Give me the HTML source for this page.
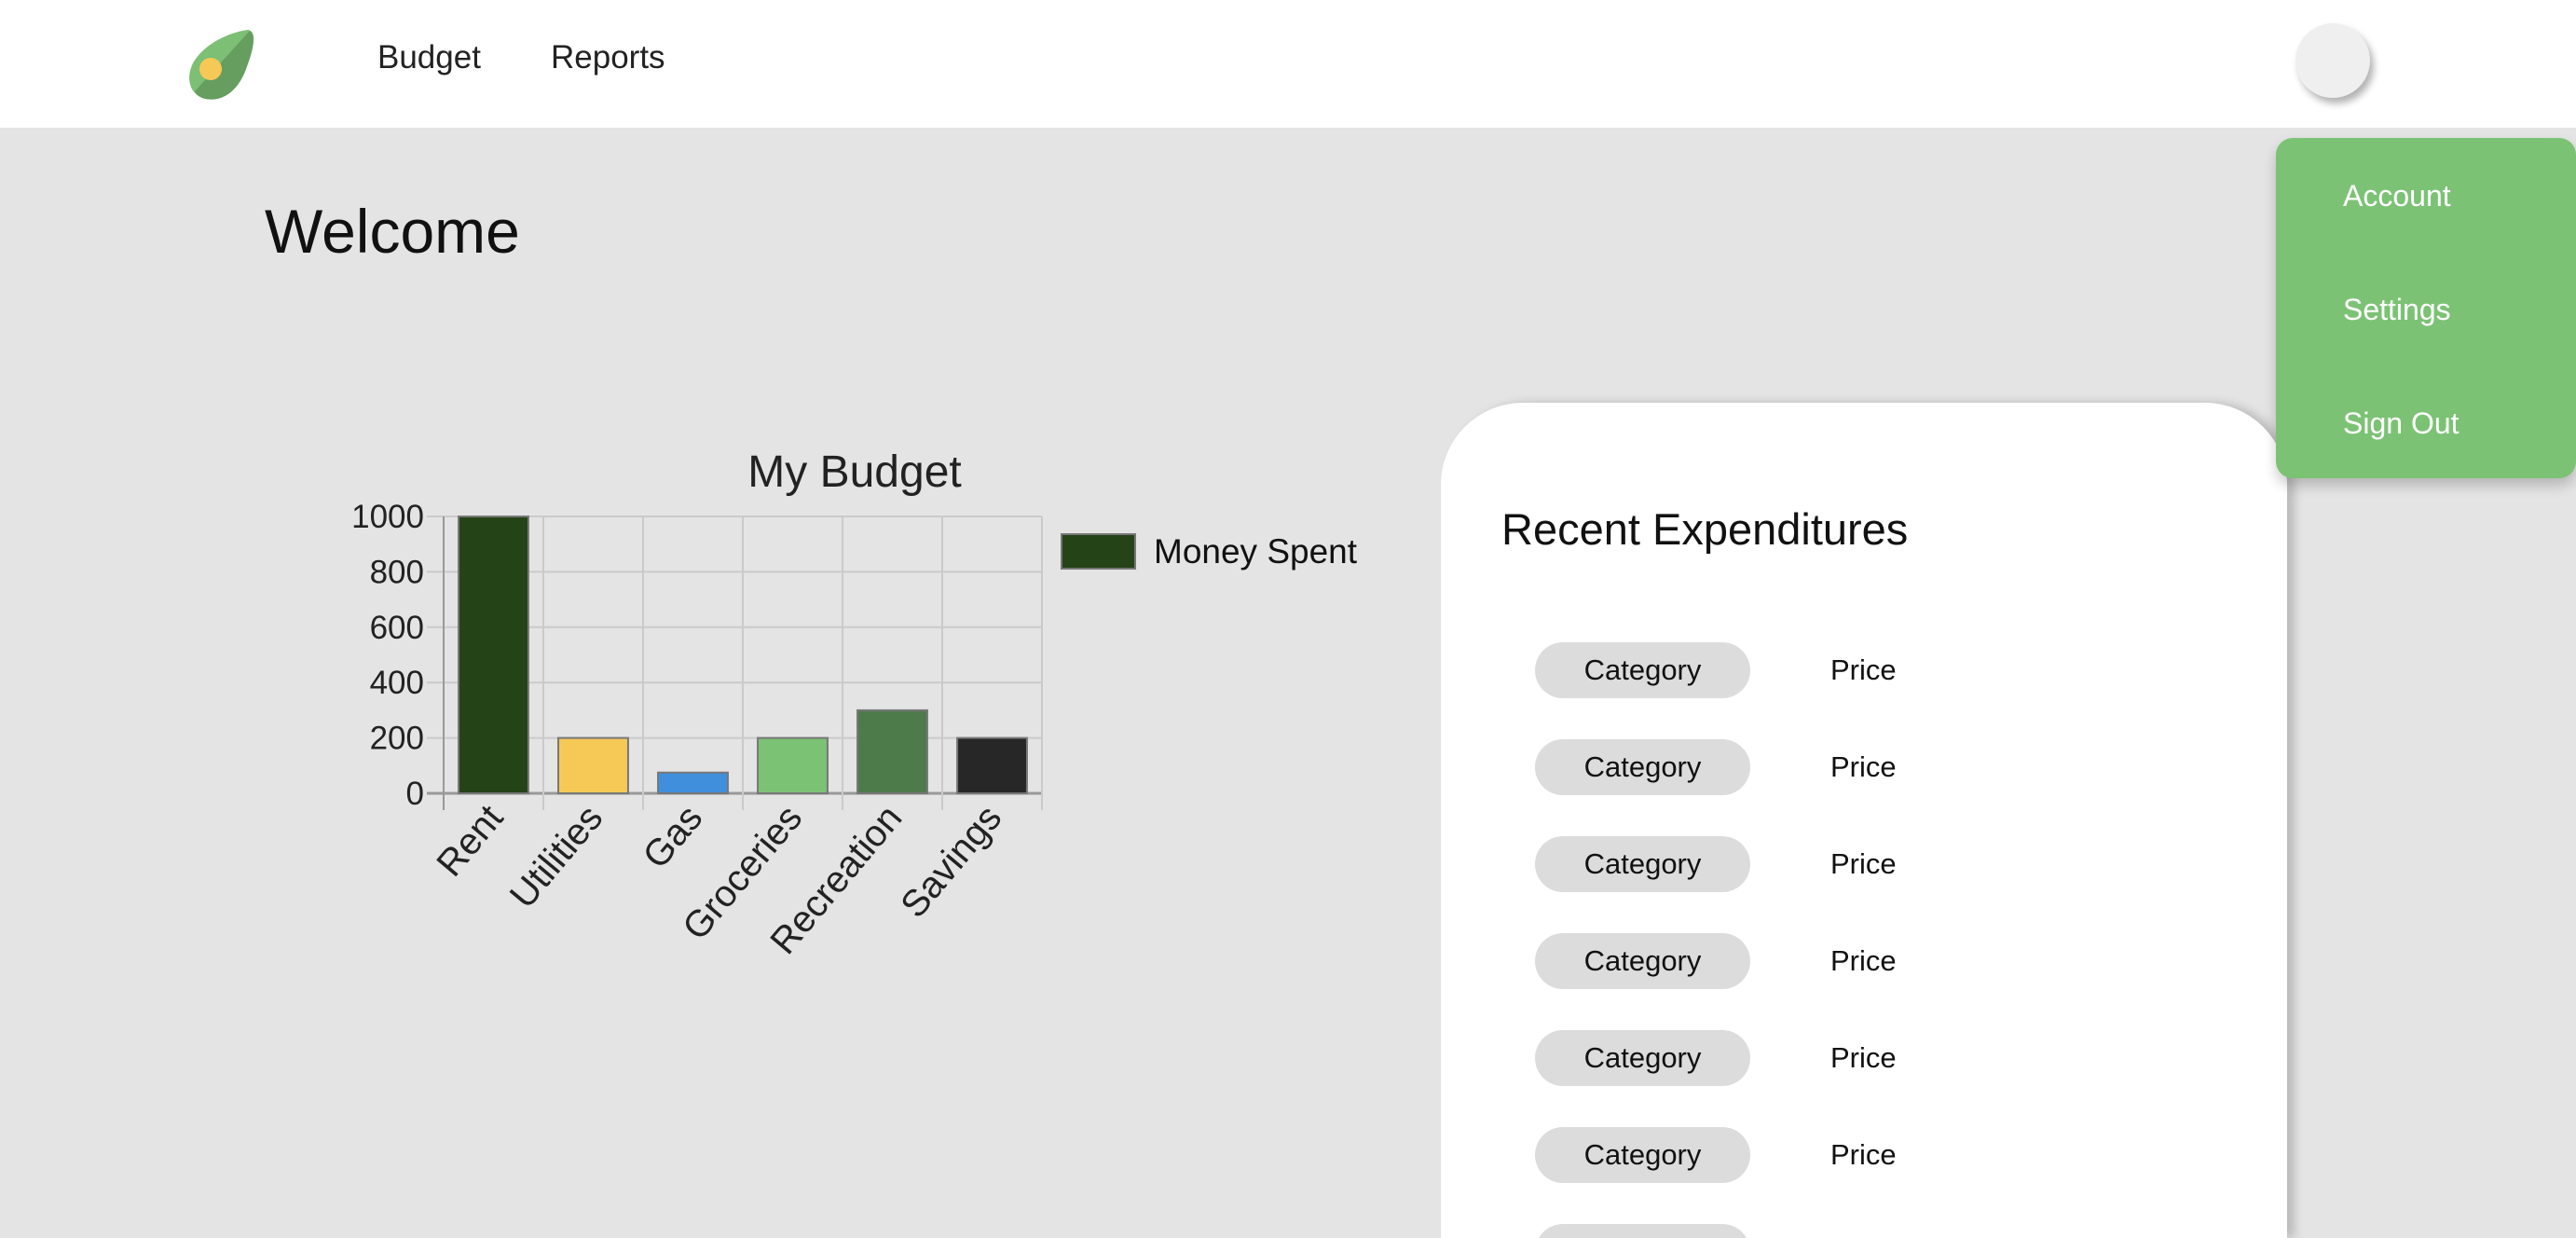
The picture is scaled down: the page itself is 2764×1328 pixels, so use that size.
<!DOCTYPE html>
<html><head><meta charset="utf-8"><style>
html,body{margin:0;width:2764px;height:1328px;overflow:hidden}
body{background:#e4e4e4;font-family:"Liberation Sans",sans-serif}
#wrap{position:relative;width:2764px;height:1328px;overflow:hidden}
.abs{position:absolute}
#hdr{left:0;top:0;width:2764px;height:137px;background:#fff}
.nav{font-size:35px;color:#222;top:42px}
.pill{left:1647px;width:231px;height:60px;border-radius:30px;background:#dcdcdc;font-size:31px;line-height:60px;text-align:center;color:#111}
.price{left:1964px;font-size:31px;line-height:60px;color:#111}
.menu{left:2514px;font-size:32px;color:#fff}
</style></head><body><div id="wrap">
<div id="hdr" class="abs">
<svg class="abs" style="left:192px;top:28px" width="86" height="82" viewBox="0 0 86 82">
<path d="M74 4 C58 6 30 16 16 38 C6 56 12 74 28 78 C48 82 64 68 72 46 C78 28 86 6 74 4Z" fill="#7cbf75"/>
<path d="M76 5 C84 12 78 30 72 46 C64 68 48 82 28 78 C22 76 19 74 17 70 Z" fill="#659e5f"/>
<circle cx="34" cy="46" r="12" fill="#f6c957"/>
</svg>
<div class="abs nav" style="left:405px">Budget</div>
<div class="abs nav" style="left:591px">Reports</div>
<div class="abs" style="left:2463px;top:25px;width:80px;height:80px;border-radius:50%;background:#efefef;box-shadow:4px 6px 8px rgba(0,0,0,.3)"></div>
</div>
<div class="abs" style="left:284px;top:210px;font-size:66px;color:#111">Welcome</div>

<svg class="abs" style="left:0;top:0" width="1500" height="1100" id="chart"></svg>

<div class="abs" style="left:1546px;top:432px;width:908px;height:896px;background:#fff;border-radius:88px 88px 0 0;box-shadow:8px 0 10px rgba(0,0,0,.18)"></div>
<div class="abs" style="left:1611px;top:540px;font-size:47px;color:#111">Recent Expenditures</div>
<div id="rows"></div>

<div class="abs" style="left:2442px;top:148px;width:322px;height:365px;background:#7cc275;border-radius:18px;box-shadow:0 8px 14px rgba(0,0,0,.2)"></div>
<div class="abs menu" style="top:192px">Account</div>
<div class="abs menu" style="top:314px">Settings</div>
<div class="abs menu" style="top:436px">Sign Out</div>
</div>
<script>
const categories=["Rent","Utilities","Gas","Groceries","Recreation","Savings"];
const values=[1000,200,75,200,300,200];
const colors=["#244317","#f6c957","#3f8fdc","#7cc275","#4d7c4a","#272727"];
const ticks=[0,200,400,600,800,1000];
const NS="http://www.w3.org/2000/svg";
const svg=document.getElementById('chart');
const X0=476,X1=1118,YT=554,Y0=851,MAX=1000;
const bw=(X1-X0)/categories.length;
const y=v=>Y0-(v/MAX)*(Y0-YT);
const xc=i=>X0+bw*(i+0.5);
function mk(t,a){const e=document.createElementNS(NS,t);for(const k in a)e.setAttribute(k,a[k]);svg.appendChild(e);return e;}
ticks.forEach(t=>{
 const l=mk('line',{x1:X0-18,x2:X1,y1:y(t),y2:y(t),stroke:t===0?'#999':'#cacaca','stroke-width':t===0?3:2});
 
 
 const tx=mk('text',{x:455,y:y(t)+12,'text-anchor':'end','font-size':35,fill:'#222','font-family':'Liberation Sans'});
 tx.textContent=t;
 
 
});
for(let i=0;i<=categories.length;i++){
 const l=mk('line',{x1:X0+bw*i,x2:X0+bw*i,y1:YT,y2:Y0+18,stroke:i===0?'#999':'#cacaca','stroke-width':2});
 
 
}
categories.forEach((c,i)=>{
 const w=bw*0.7;
 const r=mk('rect',{x:xc(i)-w/2,y:y(values[i]),width:w,height:Y0-y(values[i]),fill:colors[i],stroke:'#777','stroke-width':2});
 
 
 const t=mk('text',{x:xc(i)+12,y:878,'text-anchor':'end','font-size':40,fill:'#222','font-family':'Liberation Sans',transform:`rotate(-50 ${xc(i)+12} 878)`});
 t.textContent=c;
 
 
});
const title=mk('text',{x:917,y:522,'text-anchor':'middle','font-size':48,fill:'#222','font-family':'Liberation Sans'});
title.textContent='My Budget';


const lg=mk('rect',{x:1139,y:573,width:79,height:37,fill:'#244317',stroke:'#777','stroke-width':2});


const lt=mk('text',{x:1238,y:604,'font-size':37,fill:'#111','font-family':'Liberation Sans'});
lt.textContent='Money Spent';



const rows=document.getElementById('wrap');
[719,823,927,1031,1135,1239,1343].forEach((cy,i)=>{
 const p=document.createElement('div');p.className='abs pill';p.style.top=(cy-30)+'px';p.textContent='Category';
 
 
 rows.appendChild(p);
 const q=document.createElement('div');q.className='abs price';q.style.top=(cy-30)+'px';q.textContent='Price';
 
 
 rows.appendChild(q);
});
</script>
</body></html>
